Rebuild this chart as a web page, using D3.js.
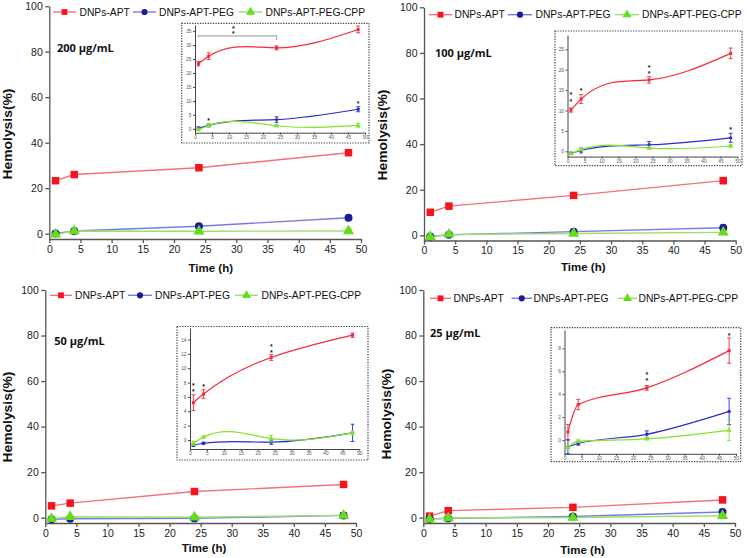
<!DOCTYPE html>
<html><head><meta charset="utf-8">
<script src="https://cdn.jsdelivr.net/npm/d3@7"></script>
<style>body{margin:0;background:#fff} svg{display:block}</style>
</head><body><svg id="c" width="747" height="558"></svg>
<script>
// ---------- data ----------
const times = [1, 4, 24, 48];
const seriesNames = ["DNPs-APT", "DNPs-APT-PEG", "DNPs-APT-PEG-CPP"];
const concLabels = ["200 μg/mL", "100 μg/mL", "50 μg/mL", "25 μg/mL"];
const xTicks = [0, 5, 10, 15, 20, 25, 30, 35, 40, 45, 50];
const mainYTicks = [0, 20, 40, 60, 80, 100];
const xTitle = "Time (h)";
const yTitle = "Hemolysis(%)";

const apt200 = [23.3, 26.0, 29.0, 35.6], aptErr200 = [0.8, 1.2, 0.7, 1.2];
const peg200 = [0.1, 1.2, 3.3, 7.0],     pegErr200 = [0.6, 0.5, 1.0, 0.9];
const cpp200 = [-0.3, 1.2, 1.1, 1.2],    cppErr200 = [0.4, 0.6, 0.4, 0.8];

const apt100 = [10.1, 12.8, 17.5, 24.0], aptErr100 = [0.5, 1.1, 0.8, 1.3];
const peg100 = [-0.5, 0.2, 1.6, 3.3],    pegErr100 = [0.3, 0.6, 0.8, 1.1];
const cpp100 = [-0.6, 0.4, 0.8, 1.3],    cppErr100 = [0.2, 0.3, 0.2, 0.3];

const apt50 = [5.2, 6.4, 11.5, 14.6],    aptErr50 = [1.1, 0.6, 0.4, 0.3];
const peg50 = [-0.7, -0.45, -0.3, 1.0],  pegErr50 = [0.2, 0.15, 0.3, 1.2];
const cpp50 = [-0.45, 0.4, 0.2, 1.0],    cppErr50 = [0.3, 0.15, 0.45, 0.3];

const apt25 = [0.7, 3.1, 4.55, 7.8],     aptErr25 = [0.65, 0.45, 0.2, 1.1];
const peg25 = [-0.6, -0.3, 0.5, 2.5],    pegErr25 = [0.6, 0.15, 0.3, 1.15];
const cpp25 = [-0.65, -0.1, 0.1, 0.85],  cppErr25 = [0.1, 0.12, 0.1, 0.9];

const insetYTicks200 = [0, 5, 10, 15, 20, 25, 30, 35];
const insetYTicks100 = [0, 5, 10, 15, 20, 25];
const insetYTicks50 = [0, 2, 4, 6, 8, 10, 12, 14];
const insetYTicks25 = [0, 2, 4, 6, 8];

// significance marks: time, level
const starT200 = [11.3, 11.3, 4, 48], starV200 = [36.3, 34.6, 3.6, 9.6];
const bracket200 = [1, 24, 33.3, 32.6, 31.8];
const starT100 = [1, 1, 4, 24, 24, 48], starV100 = [14.2, 12.5, 15.2, 21.0, 19.4, 5.8];
const starT50 = [1, 1, 4, 24, 24], starV50 = [7.8, 6.95, 7.7, 13.2, 12.4];
const starT25 = [24, 24, 48], starV25 = [5.85, 5.3, 9.25];

// ---------- natural cubic spline y(x) as a d3 curve ----------
function NaturalX(context) { this._context = context; }
NaturalX.prototype = {
  areaStart() { this._line = 0; }, areaEnd() { this._line = NaN; },
  lineStart() { this._x = []; this._y = []; },
  point(x, y) { this._x.push(+x); this._y.push(+y); },
  lineEnd() {
    const X = this._x, Y = this._y, n = X.length, c = this._context;
    if (!n) return;
    c.moveTo(X[0], Y[0]);
    if (n === 1) return;
    const h = [], d = [];
    for (let i = 0; i < n - 1; i++) { h[i] = X[i + 1] - X[i]; d[i] = (Y[i + 1] - Y[i]) / h[i]; }
    const M = new Array(n).fill(0);
    const m = n - 2;
    if (m > 0) {
      const a = [], b = [], cc = [], r = [];
      for (let k = 0; k < m; k++) {
        const i = k + 1;
        a[k] = h[i - 1]; b[k] = 2 * (h[i - 1] + h[i]); cc[k] = h[i]; r[k] = 6 * (d[i] - d[i - 1]);
      }
      for (let k = 1; k < m; k++) { const w = a[k] / b[k - 1]; b[k] -= w * cc[k - 1]; r[k] -= w * r[k - 1]; }
      const sol = new Array(m);
      sol[m - 1] = r[m - 1] / b[m - 1];
      for (let k = m - 2; k >= 0; k--) sol[k] = (r[k] - cc[k] * sol[k + 1]) / b[k];
      for (let k = 0; k < m; k++) M[k + 1] = sol[k];
    }
    const slope = k => k < n - 1 ? d[k] - h[k] * (2 * M[k] + M[k + 1]) / 6
                                 : d[k - 1] + h[k - 1] * (M[k - 1] + 2 * M[k]) / 6;
    for (let i = 0; i < n - 1; i++) {
      const s0 = slope(i), s1 = slope(i + 1), t = h[i] / 3;
      c.bezierCurveTo(X[i] + t, Y[i] + s0 * t, X[i + 1] - t, Y[i + 1] - s1 * t, X[i + 1], Y[i + 1]);
    }
  }
};
const curveNaturalX = ctx => new NaturalX(ctx);

// ---------- styles ----------
const COLORS = [
  {line: "#f4707e", mark: "#f5141e", inset: "#f7283a"},
  {line: "#7a7ae2", mark: "#1c1c99", inset: "#2a2ad0"},
  {line: "#9ae070", mark: "#66dd1a", inset: "#80e52a"}
];
const SYMS = [d3.symbolSquare, d3.symbolCircle, d3.symbolTriangle];
const MAIN_SIZE = [56, 50, 54], INSET_SIZE = [9, 9, 11], LEG_SIZE = [34, 30, 36];

const panels = [
  {conc: 0, vals: [apt200, peg200, cpp200], errs: [aptErr200, pegErr200, cppErr200],
   iTicks: insetYTicks200, starT: starT200, starV: starV200, bracket: bracket200, curve: curveNaturalX,
   L: {x0: 49.3, x1: 361, y0: 233.7, y100: 6.2, yBot: 239, legY: 12, leg: [[53, 76, 79.5], [133, 156, 159], [239, 262, 265.5]],
       concX: 57, concY: 52, timeX: 210.8, timeY: 271.5, hemX: 12, hemY: 134,
       inset: {box: [181.7, 23.3, 369, 143], x0: 195, x1: 365, yDom: [-1.4, 37.2], yRange: [132.7, 25]}}},
  {conc: 1, vals: [apt100, peg100, cpp100], errs: [aptErr100, pegErr100, cppErr100],
   iTicks: insetYTicks100, starT: starT100, starV: starV100, bracket: null, curve: curveNaturalX,
   L: {x0: 424, x1: 735.7, y0: 235.3, y100: 7.3, yBot: 240.5, legY: 14.7, leg: [[429, 452, 454.5], [508, 532, 535.5], [615, 639, 642]],
       concX: 435, concY: 57, timeX: 583.3, timeY: 271, hemX: 387, hemY: 135,
       inset: {box: [555, 31, 742, 165.7], x0: 567.5, x1: 737.5, yDom: [-1.3, 28.5], yRange: [156.6, 35]}}},
  {conc: 2, vals: [apt50, peg50, cpp50], errs: [aptErr50, pegErr50, cppErr50],
   iTicks: insetYTicks50, starT: starT50, starV: starV50, bracket: null, curve: curveNaturalX,
   L: {x0: 45.3, x1: 356, y0: 517.7, y100: 290, yBot: 523, legY: 295.3, leg: [[50, 72, 75], [128, 152, 155], [235, 258, 261.5]],
       concX: 54.3, concY: 345, timeX: 204, timeY: 551.5, hemX: 12, hemY: 417,
       inset: {box: [177, 326.5, 368, 460], x0: 190, x1: 359.3, yDom: [-1.25, 15.6], yRange: [449, 328]}}},
  {conc: 3, vals: [apt25, peg25, cpp25], errs: [aptErr25, pegErr25, cppErr25],
   iTicks: insetYTicks25, starT: starT25, starV: starV25, bracket: null, curve: d3.curveMonotoneX,
   L: {x0: 423.3, x1: 735, y0: 517.7, y100: 290, yBot: 523, legY: 298.3, leg: [[430, 451, 453.5], [511.5, 532, 533.5], [618, 637, 638.5]],
       concX: 430, concY: 337, timeX: 582.5, timeY: 554, hemX: 391, hemY: 414,
       inset: {box: [551, 327.7, 740.7, 461.7], x0: 564.5, x1: 736, yDom: [-1.2, 9.6], yRange: [453.8, 330]}}}
];

const svg = d3.select("#c");
const FONT = "'Liberation Sans', Arial, sans-serif";

function styleAxis(sel, fs, col, tcol, sw) {
  sel.select(".domain").attr("stroke", col).attr("stroke-width", sw);
  sel.selectAll(".tick line").attr("stroke", col).attr("stroke-width", sw);
  sel.selectAll(".tick text").attr("font-family", FONT).attr("font-size", fs).attr("fill", tcol);
}

function drawPanel(p) {
  const L = p.L;
  const g = svg.append("g");
  const x = d3.scaleLinear().domain([0, 50]).range([L.x0, L.x1]);
  const ppu = (L.y0 - L.y100) / 100;
  const yMin = -(L.yBot - L.y0) / ppu;
  const y = d3.scaleLinear().domain([yMin, 100]).range([L.yBot, L.y100]);

  const gx = g.append("g").attr("transform", `translate(0,${L.yBot})`)
    .call(d3.axisBottom(x).tickValues(xTicks).tickSize(4).tickSizeOuter(0).tickPadding(2.5));
  styleAxis(gx, "10.5px", "#555", "#222", 1.3);
  const gy = g.append("g").attr("transform", `translate(${L.x0},0)`)
    .call(d3.axisLeft(y).tickValues(mainYTicks).tickSize(4).tickSizeOuter(0).tickPadding(2.5));
  styleAxis(gy, "10.5px", "#555", "#222", 1.3);

  // titles
  g.append("text").attr("x", L.timeX).attr("y", L.timeY).attr("text-anchor", "middle")
    .attr("font-family", FONT).attr("font-weight", "bold").attr("font-size", "11.5px").attr("fill", "#111").text(xTitle);
  g.append("text").attr("transform", `translate(${L.hemX},${L.hemY}) rotate(-90)`).attr("text-anchor", "middle")
    .attr("font-family", FONT).attr("font-weight", "bold").attr("font-size", "12px").attr("fill", "#111")
    .attr("textLength", 91).attr("lengthAdjust", "spacingAndGlyphs").text(yTitle);
  g.append("text").attr("x", L.concX).attr("y", L.concY)
    .attr("font-family", "'Open Sans', 'Noto Sans', sans-serif").attr("font-weight", "bold").attr("font-size", "11px").attr("fill", "#111")
    .text(concLabels[p.conc]);

  // legend
  seriesNames.forEach((name, i) => {
    const [a, b, t] = L.leg[i];
    g.append("line").attr("x1", a).attr("x2", b).attr("y1", L.legY).attr("y2", L.legY)
      .attr("stroke", COLORS[i].line).attr("stroke-width", 1.4);
    g.append("path").attr("d", d3.symbol(SYMS[i], LEG_SIZE[i])())
      .attr("transform", `translate(${(a + b) / 2},${L.legY})`).attr("fill", COLORS[i].mark);
    g.append("text").attr("x", t).attr("y", L.legY + 3.7).attr("font-family", FONT)
      .attr("font-size", "10.3px").attr("fill", "#111").text(name);
  });

  // main series
  const line = d3.line().x((d, j) => x(times[j])).y(d => y(d));
  p.vals.forEach((v, i) => {
    g.append("path").attr("d", line(v)).attr("fill", "none").attr("stroke", COLORS[i].line).attr("stroke-width", 1.4);
  });
  p.vals.forEach((v, i) => {
    v.forEach((d, j) => {
      const cx = x(times[j]), e = p.errs[i][j];
      g.append("path").attr("d", `M${cx},${y(d - e)}V${y(d + e)}M${cx - 3},${y(d - e)}H${cx + 3}M${cx - 3},${y(d + e)}H${cx + 3}`)
        .attr("stroke", COLORS[i].mark).attr("stroke-width", 1.2).attr("fill", "none");
      g.append("path").attr("d", d3.symbol(SYMS[i], MAIN_SIZE[i])())
        .attr("transform", `translate(${cx},${y(d)})`).attr("fill", COLORS[i].mark);
    });
  });

  // inset
  const I = L.inset;
  const ig = g.append("g");
  ig.append("rect").attr("x", I.box[0]).attr("y", I.box[1]).attr("width", I.box[2] - I.box[0]).attr("height", I.box[3] - I.box[1])
    .attr("fill", "#fff").attr("stroke", "#444").attr("stroke-width", 1.2).attr("stroke-dasharray", "1.3,1.3");
  const xi = d3.scaleLinear().domain([0, 50]).range([I.x0, I.x1]);
  const yi = d3.scaleLinear().domain(I.yDom).range(I.yRange);
  const gix = ig.append("g").attr("transform", `translate(0,${I.yRange[0]})`)
    .call(d3.axisBottom(xi).tickValues(xTicks).tickSize(2).tickSizeOuter(0).tickPadding(1));
  styleAxis(gix, "4.8px", "#444", "#555", 1);
  const giy = ig.append("g").attr("transform", `translate(${I.x0},0)`)
    .call(d3.axisLeft(yi).tickValues(p.iTicks).tickSize(2).tickSizeOuter(0).tickPadding(1.5));
  styleAxis(giy, "4.8px", "#444", "#555", 1);

  const iline = d3.line().x((d, j) => xi(times[j])).y(d => yi(d)).curve(p.curve);
  p.vals.forEach((v, i) => {
    ig.append("path").attr("d", iline(v)).attr("fill", "none").attr("stroke", COLORS[i].inset).attr("stroke-width", 1.2);
  });
  p.vals.forEach((v, i) => {
    v.forEach((d, j) => {
      const cx = xi(times[j]), e = p.errs[i][j];
      ig.append("path").attr("d", `M${cx},${yi(d - e)}V${yi(d + e)}M${cx - 2},${yi(d - e)}H${cx + 2}M${cx - 2},${yi(d + e)}H${cx + 2}`)
        .attr("stroke", COLORS[i].inset).attr("stroke-width", 0.9).attr("fill", "none");
      ig.append("path").attr("d", d3.symbol(SYMS[i], INSET_SIZE[i])())
        .attr("transform", `translate(${cx},${yi(d)})`).attr("fill", COLORS[i].inset);
    });
  });

  if (p.bracket) {
    const [a, b, lv, la, lb] = p.bracket;
    ig.append("path").attr("d", `M${xi(a)},${yi(la)}V${yi(lv)}H${xi(b)}V${yi(lb)}`)
      .attr("fill", "none").attr("stroke", "#aaa").attr("stroke-width", 1.1);
  }
  // stars: one text element per time point, stacked tspans
  const fs = 7;
  const groups = d3.group(p.starT.map((t, k) => ({t, v: p.starV[k]})), d => d.t);
  groups.forEach((arr, t) => {
    const txt = ig.append("text").attr("text-anchor", "middle").attr("font-family", FONT)
      .attr("font-weight", "bold").attr("font-size", fs + "px").attr("fill", "#222");
    arr.forEach(s => {
      txt.append("tspan").attr("x", xi(t)).attr("y", yi(s.v) + 0.56 * fs).text("*");
    });
  });
}

panels.forEach(drawPanel);
</script></body></html>
